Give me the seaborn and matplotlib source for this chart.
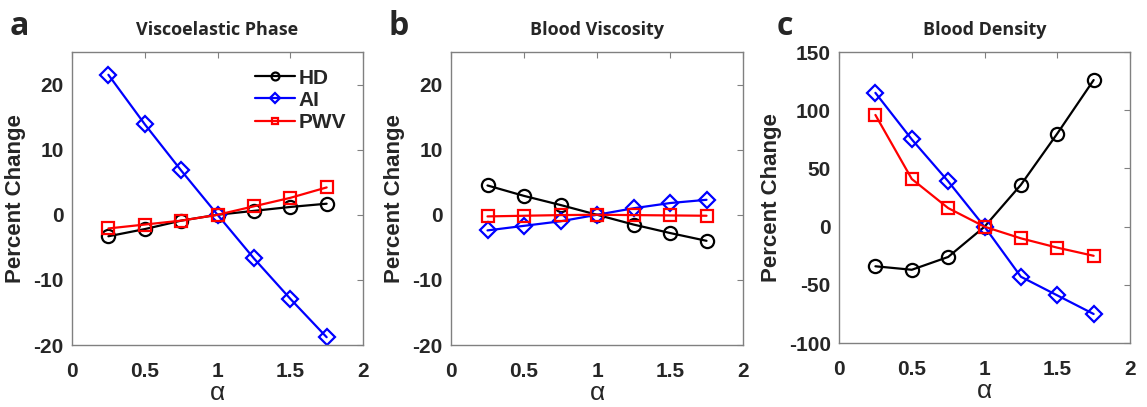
import numpy as np
import pandas as pd
import seaborn as sns
import matplotlib.pyplot as plt

# alpha values on the x axis
alpha = [0.25, 0.5, 0.75, 1.0, 1.25, 1.5, 1.75]

# a - Viscoelastic Phase
visco_hd = [-3.3, -2.2, -0.9, 0.0, 0.6, 1.2, 1.7]
visco_ai = [21.5, 13.9, 6.8, 0.0, -6.7, -12.9, -18.8]
visco_pwv = [-2.1, -1.5, -0.9, 0.0, 1.3, 2.6, 4.2]

# b - Blood Viscosity
visc_hd = [4.5, 2.9, 1.5, 0.0, -1.5, -2.8, -4.0]
visc_ai = [-2.4, -1.7, -1.0, 0.0, 1.0, 1.8, 2.3]
visc_pwv = [-0.25, -0.15, -0.05, 0.0, -0.05, -0.1, -0.15]

# c - Blood Density
dens_hd = [-34, -37, -26, 0, 36, 80, 126]
dens_ai = [115, 75, 39, 0, -43, -59, -75]
dens_pwv = [96, 41, 16, 0, -10, -18, -25]

titles = ["Viscoelastic Phase", "Blood Viscosity", "Blood Density"]
letters = ["a", "b", "c"]
series_names = ["HD", "AI", "PWV"]
ylims = [(-20, 25), (-20, 25), (-100, 150)]
yticks = [[-20, -10, 0, 10, 20], [-20, -10, 0, 10, 20], [-100, -50, 0, 50, 100, 150]]

panels = [
    [visco_hd, visco_ai, visco_pwv],
    [visc_hd, visc_ai, visc_pwv],
    [dens_hd, dens_ai, dens_pwv],
]

colors = ["black", "#0000ff", "#ff0000"]
markers = ["o", "D", "s"]
msizes = [9.5, 8, 8]

sns.set_style("white")
plt.rcParams['font.family'] = ['Liberation Sans', 'DejaVu Sans']
plt.rcParams['axes.unicode_minus'] = False

fig = plt.figure(figsize=(11.47, 4.07), dpi=100)
boxes = [
    [0.0628, 0.1523, 0.2537, 0.720],
    [0.3932, 0.1523, 0.2546, 0.720],
    [0.7315, 0.1570, 0.2537, 0.715],
]

text_col = "#262626"
box_col = "#808080"

for i in range(3):
    ax = fig.add_axes(boxes[i])
    for j in range(3):
        df = pd.DataFrame({"alpha": alpha, "value": panels[i][j]})
        sns.lineplot(data=df, x="alpha", y="value", ax=ax, color=colors[j],
                     marker=markers[j], markersize=msizes[j], markerfacecolor="none",
                     markeredgecolor=colors[j], markeredgewidth=1.6, linewidth=1.6,
                     label=series_names[j] if i == 0 else None, legend=False)
    ax.set_xlim(0, 2)
    ax.set_ylim(*ylims[i])
    ax.set_xticks([0, 0.5, 1, 1.5, 2])
    ax.set_xticklabels(["0", "0.5", "1", "1.5", "2"])
    ax.set_yticks(yticks[i])
    ax.tick_params(direction="in", top=True, right=True, length=4, width=0.8,
                   color=box_col, labelsize=15, labelcolor=text_col)
    ax.tick_params(axis="x", pad=12)
    ax.tick_params(axis="y", pad=6)
    for lab in ax.get_xticklabels() + ax.get_yticklabels():
        lab.set_fontweight("bold")
    for sp in ax.spines.values():
        sp.set_color(box_col)
        sp.set_linewidth(1.0)
    ax.set_xlabel("α", fontsize=19, color=text_col, labelpad=0)
    ax.set_ylabel("Percent Change", fontsize=16, fontweight="bold", color=text_col, labelpad=5)
    ax.set_title(titles[i], fontsize=13, fontweight="bold", family=["Open Sans", "DejaVu Sans"],
                 pad=12)
    ax.text(-0.215, 1.03, letters[i], transform=ax.transAxes, fontsize=23,
            fontweight="bold", family=["Open Sans", "DejaVu Sans"], va="bottom", ha="left")
    if i == 0:
        leg = ax.legend(loc="upper right", frameon=False, prop={"weight": "bold", "size": 15},
                        handlelength=1.9, handletextpad=0.2, labelspacing=0.15,
                        borderaxespad=0.4, markerscale=0.6)

fig.savefig("out.png", dpi=100)
